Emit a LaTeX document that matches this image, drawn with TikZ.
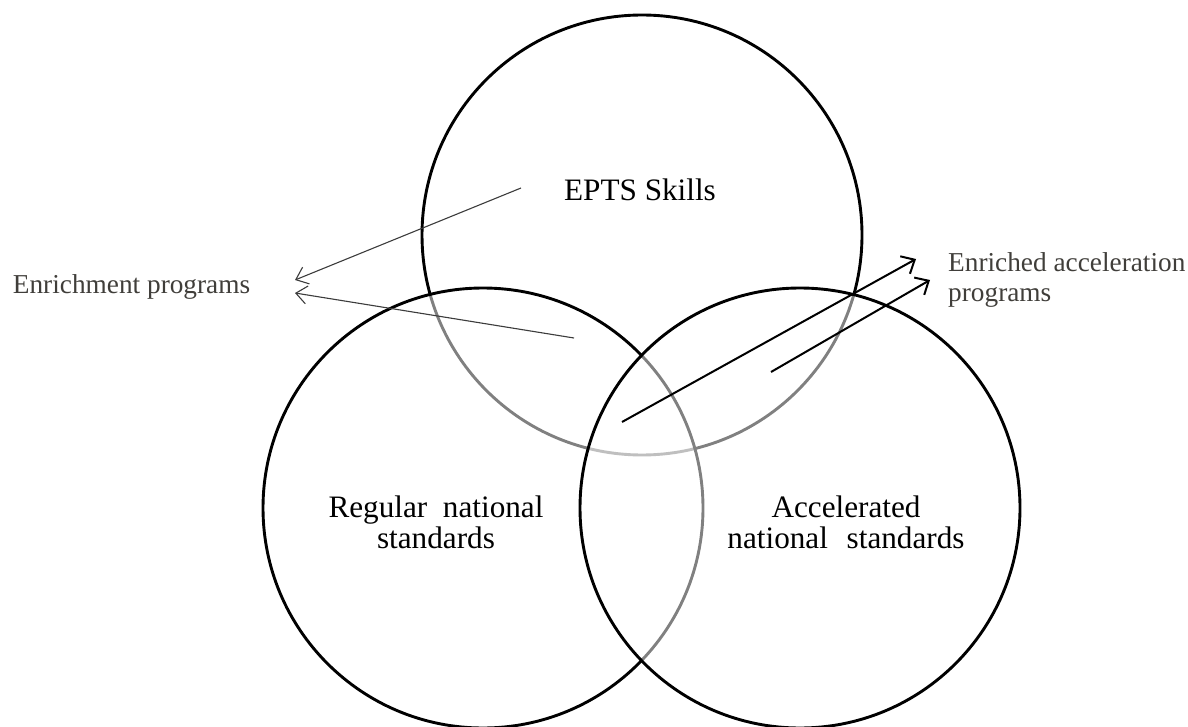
\documentclass[tikz,border=0pt]{standalone}
\usepackage{fontspec}
\setmainfont{Liberation Serif}
\usetikzlibrary{arrows.meta}
\definecolor{sidegray}{RGB}{64,62,58}
\definecolor{thinarrow}{RGB}{60,60,60}
\begin{document}
\begin{tikzpicture}[x=1pt,y=-1pt,
  ring/.style={draw=black, line width=2.9pt, fill=white, fill opacity=0.5, circle, minimum size=440pt, inner sep=0pt},
  mainlbl/.style={font=\fontsize{31.2}{31}\selectfont, text=black, inner sep=0pt},
  sidelbl/.style={font=\fontsize{27.3}{30}\selectfont, text=sidegray, inner sep=0pt},
  thinarr/.style={draw=thinarrow, line width=1.1pt, -{Straight Barb[length=11pt, width=18pt, line width=1.1pt]}},
  thickarr/.style={draw=black, line width=2pt, -{Straight Barb[length=11pt, width=20pt, line width=2pt]}}
]
\useasboundingbox (0,0) rectangle (1188,727);
% circles
\node[ring] (epts) at (642,235) {};
\node[ring] (reg) at (483,508) {};
\node[ring] (acc) at (800,508) {};
% labels
\node[mainlbl, anchor=base] (eptsl) at (640,200.7) {EPTS Skills};
\node[mainlbl, align=center, anchor=base] (regl) at (436,548) {Regular\hspace{0.25em} national\\standards};
\node[mainlbl, align=center, anchor=base] (accl) at (846,548) {Accelerated\\national\hspace{0.35em} standards};
\node[sidelbl, anchor=base west] (enrl) at (12.7,293) {Enrichment programs};
\node[sidelbl, align=left, anchor=base west] (eacl) at (948,301.7) {Enriched acceleration\\programs};
% arrow end points
\coordinate (a1s) at (521,188); \coordinate (a1e) at (295,280);
\coordinate (a2s) at (574,338); \coordinate (a2e) at (295,293);
\coordinate (b1s) at (622,422); \coordinate (b1e) at (916,259);
\coordinate (b2s) at (771,372); \coordinate (b2e) at (930,280);
\draw[thinarr] (a1s) -- (a1e);
\draw[thinarr] (a2s) -- (a2e);
\draw[thickarr] (b1s) -- (b1e);
\draw[thickarr] (b2s) -- (b2e);
\end{tikzpicture}
\end{document}
